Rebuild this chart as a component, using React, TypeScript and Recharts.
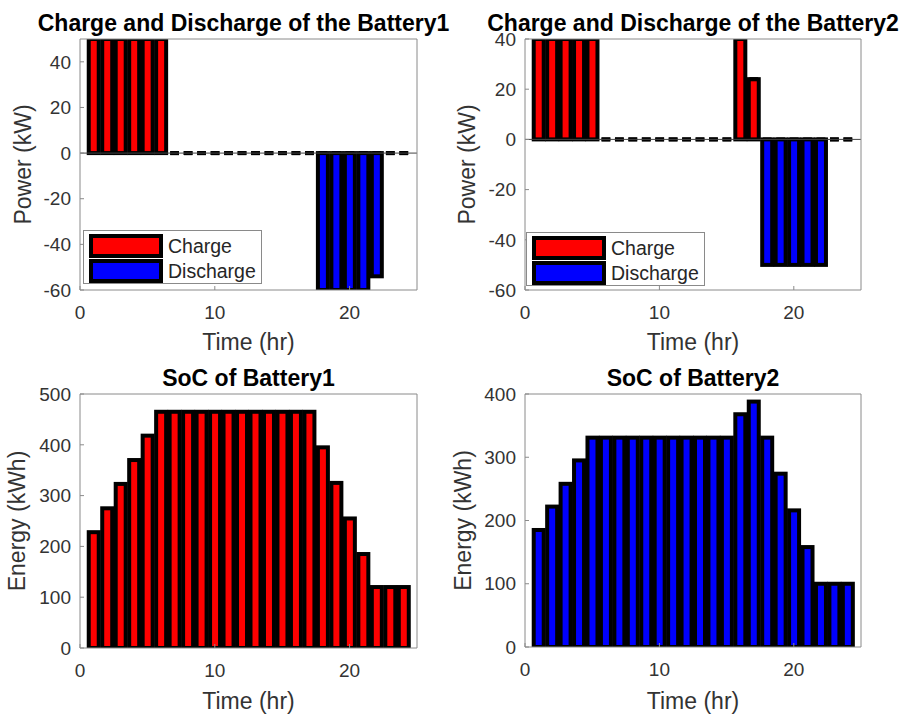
import React from "react";
import { BarChart, Bar, XAxis, YAxis, ReferenceLine, Legend } from "recharts";

const hours = [1, 2, 3, 4, 5, 6, 7, 8, 9, 10, 11, 12, 13, 14, 15, 16, 17, 18, 19, 20, 21, 22, 23, 24];

// battery 1 power (kW)
const charge1 = [50, 50, 50, 50, 50, 50, 0, 0, 0, 0, 0, 0, 0, 0, 0, 0, 0, 0, 0, 0, 0, 0, 0, 0];
const discharge1 = [0, 0, 0, 0, 0, 0, 0, 0, 0, 0, 0, 0, 0, 0, 0, 0, 0, -60, -60, -60, -60, -54, 0, 0];

// battery 2 power (kW)
const charge2 = [40, 40, 40, 40, 40, 0, 0, 0, 0, 0, 0, 0, 0, 0, 0, 40, 24, 0, 0, 0, 0, 0, 0, 0];
const discharge2 = [0, 0, 0, 0, 0, 0, 0, 0, 0, 0, 0, 0, 0, 0, 0, 0, 0, -50, -50, -50, -50, -50, 0, 0];

// state of charge (kWh)
const soc1 = [228, 275, 323, 370, 418, 465, 465, 465, 465, 465, 465, 465, 465, 465, 465, 465, 465, 395, 325, 255, 185, 120, 120, 120];
const soc2 = [185, 222, 258, 295, 331, 331, 331, 331, 331, 331, 331, 331, 331, 331, 331, 368, 388, 331, 274, 216, 158, 100, 100, 100];

const timeTicks = [0, 10, 20];
const power1Ticks = [-60, -40, -20, 0, 20, 40];
const power2Ticks = [-60, -40, -20, 0, 20, 40];
const soc1Ticks = [0, 100, 200, 300, 400, 500];
const soc2Ticks = [0, 100, 200, 300, 400];

const legendNames = ["Charge", "Discharge"];
const RED = "#ff0000";
const BLUE = "#0000ff";
const legendColors = [RED, BLUE];

const FONT = "'Liberation Sans', Arial, Helvetica, sans-serif";
const AXIS = "#8a8a8a";
const EDGE = 4;

const powerRows = (c: number[], d: number[]) =>
  hours.map((h, i) => ({ hour: h, charge: c[i], discharge: d[i] }));
const socRows = (s: number[]) => hours.map((h, i) => ({ hour: h, soc: s[i] }));

// MATLAB-like bar: thick black edge, zero-height bars still show as a dash
const OutlinedBar = (props: any) => {
  const { x, y, width, height, fill } = props;
  if (x == null || y == null || width == null) return null;
  const h = height || 0;
  if (Math.abs(h) < 0.5) {
    return <line x1={x + 0.6} x2={x + width - 0.6} y1={y} y2={y} stroke="#000" strokeWidth={EDGE} />;
  }
  const top = h < 0 ? y + h : y;
  return (
    <rect x={x} y={top} width={width} height={Math.abs(h)} fill={fill} stroke="#000" strokeWidth={EDGE} />
  );
};

const renderLegend = () => (
  <div
    style={{
      position: "relative",
      width: 179,
      height: 54,
      boxSizing: "border-box",
      border: `1px solid ${AXIS}`,
      background: "#fff",
      fontFamily: FONT,
    }}
  >
    {legendNames.map((name, i) => (
      <React.Fragment key={name}>
        <div
          style={{
            position: "absolute",
            left: 5,
            top: 3 + i * 24.5,
            width: 74,
            height: 24,
            boxSizing: "border-box",
            border: "4px solid #000",
            background: legendColors[i],
          }}
        />
        <span
          style={{
            position: "absolute",
            left: 84,
            top: 3 + i * 24.5,
            lineHeight: "24px",
            fontSize: 19.5,
            color: "#262626",
            whiteSpace: "nowrap",
          }}
        >
          {name}
        </span>
      </React.Fragment>
    ))}
  </div>
);

interface PanelProps {
  left: number;
  top: number;
  width: number;
  height: number;
  margin: { top: number; right: number; bottom: number; left: number };
  data: any[];
  power?: boolean;
  socColor?: string;
  yDomain: [number, number];
  yTicks: number[];
  title: string;
  titleDx?: number;
  yLabel: string;
  yLabelOffset: number;
  xLabelOffset: number;
  legendPos?: { left: number; top: number };
}

const tickStyle = { fontSize: 19, fill: "#333", fontFamily: FONT };

const Panel = (p: PanelProps) => (
  <div style={{ position: "absolute", left: p.left, top: p.top }}>
    <BarChart width={p.width} height={p.height} data={p.data} margin={p.margin} barSize={10}>
      <XAxis
        dataKey="hour"
        type="number"
        domain={[0, 25]}
        ticks={timeTicks}
        interval={0}
        allowDataOverflow
        height={1}
        tickSize={-4}
        tickMargin={20}
        axisLine={{ stroke: AXIS }}
        tickLine={{ stroke: AXIS }}
        tick={tickStyle}
        label={{
          value: "Time (hr)",
          position: "bottom",
          offset: p.xLabelOffset,
          style: { fontSize: 23, fill: "#333", fontFamily: FONT },
        }}
      />
      <XAxis
        xAxisId="top"
        dataKey="hour"
        orientation="top"
        type="number"
        domain={[0, 25]}
        ticks={timeTicks}
        interval={0}
        allowDataOverflow
        height={1}
        tickSize={-4}
        axisLine={{ stroke: AXIS }}
        tickLine={{ stroke: AXIS }}
        tick={false}
        label={{
          value: p.title,
          position: "top",
          offset: 7,
          dx: p.titleDx || 0,
          style: { fontSize: 23, fontWeight: "bold", fill: "#000", fontFamily: FONT },
        }}
      />
      <YAxis
        type="number"
        domain={p.yDomain}
        ticks={p.yTicks}
        interval={0}
        allowDataOverflow
        width={1}
        tickSize={-4}
        tickMargin={13}
        axisLine={{ stroke: AXIS }}
        tickLine={{ stroke: AXIS }}
        tick={tickStyle}
        label={{
          value: p.yLabel,
          angle: -90,
          position: "left",
          offset: p.yLabelOffset,
          style: { fontSize: 23, fill: "#333", fontFamily: FONT, textAnchor: "middle" },
        }}
      />
      <YAxis
        yAxisId="right"
        orientation="right"
        type="number"
        domain={p.yDomain}
        ticks={p.yTicks}
        interval={0}
        allowDataOverflow
        width={1}
        tickSize={-4}
        axisLine={{ stroke: AXIS }}
        tickLine={{ stroke: AXIS }}
        tick={false}
      />
      {p.power && <ReferenceLine y={0} stroke="#444" strokeWidth={1} />}
      {p.power && (
        <Bar dataKey="charge" stackId="p" fill={RED} shape={OutlinedBar} isAnimationActive={false} />
      )}
      {p.power && (
        <Bar dataKey="discharge" stackId="p" fill={BLUE} shape={OutlinedBar} isAnimationActive={false} />
      )}
      {!p.power && (
        <Bar dataKey="soc" fill={p.socColor} shape={OutlinedBar} isAnimationActive={false} />
      )}
      {p.legendPos && (
        <Legend
          layout="horizontal"
          verticalAlign="middle"
          align="center"
          content={renderLegend}
          wrapperStyle={{
            position: "absolute",
            left: p.legendPos.left,
            top: p.legendPos.top,
            width: 179,
            height: 54,
            margin: 0,
            padding: 0,
          }}
        />
      )}
    </BarChart>
  </div>
);

export default function App() {
  return (
    <div
      style={{
        position: "absolute",
        left: 0,
        top: 0,
        width: 909,
        height: 715,
        background: "#fff",
        fontFamily: FONT,
      }}
    >
      <Panel
        left={0}
        top={0}
        width={455}
        height={358}
        margin={{ top: 38, right: 37, bottom: 67, left: 79 }}
        data={powerRows(charge1, discharge1)}
        power
        yDomain={[-60, 50]}
        yTicks={power1Ticks}
        title="Charge and Discharge of the Battery1"
        titleDx={-5}
        yLabel="Power (kW)"
        yLabelOffset={56}
        xLabelOffset={43}
        legendPos={{ left: 83, top: 230 }}
      />
      <Panel
        left={440}
        top={0}
        width={469}
        height={358}
        margin={{ top: 38, right: 47, bottom: 67, left: 84 }}
        data={powerRows(charge2, discharge2)}
        power
        yDomain={[-60, 40]}
        yTicks={power2Ticks}
        title="Charge and Discharge of the Battery2"
        yLabel="Power (kW)"
        yLabelOffset={57}
        xLabelOffset={43}
        legendPos={{ left: 86, top: 232 }}
      />
      <Panel
        left={0}
        top={358}
        width={455}
        height={357}
        margin={{ top: 35, right: 37, bottom: 66, left: 79 }}
        data={socRows(soc1)}
        socColor={RED}
        yDomain={[0, 500]}
        yTicks={soc1Ticks}
        title="SoC of Battery1"
        yLabel="Energy (kWh)"
        yLabelOffset={62}
        xLabelOffset={44}
      />
      <Panel
        left={440}
        top={358}
        width={469}
        height={357}
        margin={{ top: 35, right: 47, bottom: 67, left: 84 }}
        data={socRows(soc2)}
        socColor={BLUE}
        yDomain={[0, 400]}
        yTicks={soc2Ticks}
        title="SoC of Battery2"
        yLabel="Energy (kWh)"
        yLabelOffset={61}
        xLabelOffset={45}
      />
    </div>
  );
}
